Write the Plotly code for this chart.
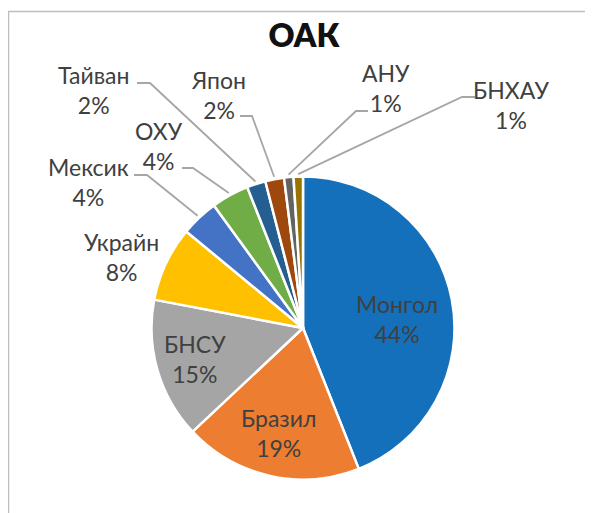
import math
import plotly.graph_objects as go

# ---------------- data ----------------
categories = ["Монгол", "Бразил", "БНСУ", "Украйн", "Мексик", "ОХУ",
              "Тайван", "Япон", "АНУ", "БНХАУ"]
shares = [44, 19, 15, 8, 4, 4, 2, 2, 1, 1]
title_text = "ОАК"

# ---------------- style / layout ----------------
slice_colors = ["#1470BA", "#ED7D31", "#A5A5A5", "#FFC000", "#4472C4",
                "#70AD47", "#255E91", "#9E480E", "#636363", "#997300"]
W, H = 593, 513            # window size
OFF = 8                    # default page (body) margin
WF, HF = W - OFF, H - OFF  # figure size
CX, CY, R = 303, 328, 151.5          # pie centre / radius in window pixels
TEXT_COLOR = "#404040"
LEADER_COLOR = "#A6A6A6"
FONT = "Lato"

# label block centres (window pixels)
label_pos = {
    "Монгол": (397, 319), "Бразил": (278, 433), "БНСУ": (195, 359),
    "Украйн": (121, 257), "Мексик": (88, 182), "ОХУ": (159, 146),
    "Тайван": (93, 90), "Япон": (218, 95), "АНУ": (386, 88),
    "БНХАУ": (511, 105),
}
# leader lines: start at label side, horizontal elbow, then to slice
leaders = {
    "Мексик": ((134, 175), (147, 175)),
    "ОХУ": ((182, 168), (193, 168)),
    "Тайван": ((137, 83), (150, 83)),
    "Япон": ((240, 116), (252, 116)),
    "АНУ": ((368, 111), (356, 111)),
    "БНХАУ": ((475, 97), (462, 97)),
}

total = sum(shares)
mid_angle = {}
acc = 0
for c, v in zip(categories, shares):
    mid_angle[c] = (acc + v / 2) / total * 2 * math.pi
    acc += v

fig = go.Figure()
fig.add_trace(go.Pie(
    labels=categories, values=shares, sort=False, direction="clockwise",
    rotation=0, textinfo="none", hoverinfo="label+percent", showlegend=False,
    marker=dict(colors=slice_colors, line=dict(color="white", width=2.5)),
    domain=dict(x=[(CX - R - OFF) / WF, (CX + R - OFF) / WF],
                y=[(OFF + HF - CY - R) / HF, (OFF + HF - CY + R) / HF]),
))

for c, (start, elbow) in leaders.items():
    a = mid_angle[c]
    tip = (CX + (R + 2.5) * math.sin(a), CY - (R + 2.5) * math.cos(a))
    fig.add_trace(go.Scatter(
        x=[start[0], elbow[0], tip[0]], y=[start[1], elbow[1], tip[1]],
        mode="lines", line=dict(color=LEADER_COLOR, width=1.8),
        hoverinfo="skip", showlegend=False, xaxis="x", yaxis="y",
    ))

annotations = []
for c, v in zip(categories, shares):
    x, y = label_pos[c]
    annotations.append(dict(
        text=f"{c}<br>{v}%", x=x, y=y, xref="x", yref="y",
        showarrow=False, xanchor="center", yanchor="middle", align="center",
        font=dict(family=FONT, size=23, color=TEXT_COLOR),
    ))

fig.update_layout(
    width=WF, height=HF, margin=dict(l=0, r=0, t=0, b=0),
    paper_bgcolor="white", plot_bgcolor="rgba(0,0,0,0)",
    title=dict(text=title_text, x=(304 - OFF) / WF, y=1 - (36 - OFF) / HF,
               xanchor="center", yanchor="middle",
               font=dict(family=FONT, size=32, color="#111111", weight=800)),
    xaxis=dict(range=[OFF, OFF + WF], visible=False, fixedrange=True,
               domain=[0, 1]),
    yaxis=dict(range=[OFF + HF, OFF], visible=False, fixedrange=True,
               domain=[0, 1]),
    annotations=annotations,
    shapes=[dict(type="rect", xref="x", yref="y", x0=8.5, y0=11.5,
                 x1=W + 3, y1=H + 3, line=dict(color="#BDBDBD", width=1.5),
                 layer="below")],
)

fig.write_html("out.html", config={"displayModeBar": False})
